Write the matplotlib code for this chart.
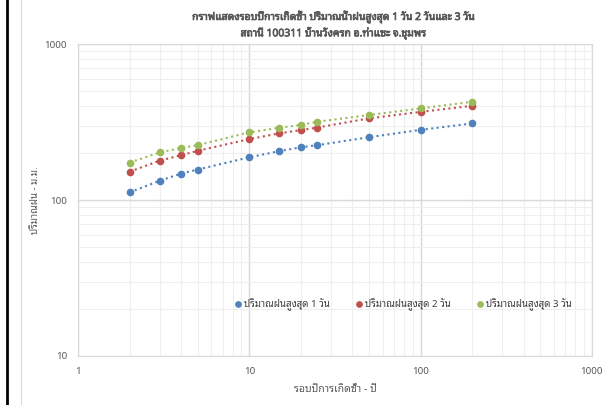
import matplotlib.pyplot as plt
import matplotlib.patheffects as pe
from matplotlib import font_manager
from matplotlib.lines import Line2D
from matplotlib.ft2font import FT2Font

# find fonts that can draw Thai, prefer a proportional sans one
thai_names = []
for f in font_manager.fontManager.ttflist:
    try:
        if 0x0E01 in FT2Font(f.fname).get_charmap() and f.name not in thai_names:
            thai_names.append(f.name)
    except Exception:
        pass
prefer = ['Leelawadee', 'Tahoma', 'Noto Sans Thai', 'Loma', 'Garuda', 'Waree',
          'Umpush', 'Sawasdee', 'Laksaman', 'Kinnari', 'Norasi']
thai_font = None
for p in prefer:
    for n in thai_names:
        if n.startswith(p) and 'Mono' not in n and 'UI' not in n:
            thai_font = n
            break
    if thai_font:
        break
if thai_font is None:
    rest = [n for n in thai_names if 'Mono' not in n]
    thai_font = rest[0] if rest else (thai_names[0] if thai_names else None)
families = [thai_font, 'DejaVu Sans'] if thai_font else ['DejaVu Sans']
plt.rcParams['font.family'] = families

return_period = [2, 3, 4, 5, 10, 15, 20, 25, 50, 100, 200]
rain_1day = [112, 133, 148, 157, 188, 206, 218, 225, 253, 282, 310]
rain_2day = [152, 179, 194, 207, 246, 268, 281, 292, 334, 368, 402]
rain_3day = [174, 202, 216, 225, 272, 291, 303, 318, 351, 387, 427]
labels = ['ปริมาณฝนสูงสุด 1 วัน', 'ปริมาณฝนสูงสุด 2 วัน', 'ปริมาณฝนสูงสุด 3 วัน']
colors = ['#4F81BD', '#C0504D', '#9BBB59']

fig = plt.figure(figsize=(6.12, 4.05), dpi=100)
ax = fig.add_axes([0.1275, 0.121, 0.8395, 0.770])

for y, lab, c in zip([rain_1day, rain_2day, rain_3day], labels, colors):
    ax.plot(return_period, y, linestyle=':', linewidth=1.5, color=c,
            marker='o', markersize=4.5, label=lab)

ax.set_xscale('log')
ax.set_yscale('log')
ax.set_xlim(1, 1000)
ax.set_ylim(10, 1000)
ax.set_xticks([1, 10, 100, 1000])
ax.set_xticklabels(['1', '10', '100', '1000'])
ax.set_yticks([10, 100, 1000])
ax.set_yticklabels(['10', '100', '1000'])
ax.tick_params(which='both', length=0, labelsize=7, colors='#595959', pad=8)
ax.grid(True, which='major', color='#d9d9d9', linewidth=1)
ax.grid(True, which='minor', color='#efefef', linewidth=0.8)
ax.set_axisbelow(True)
for s in ax.spines.values():
    s.set_color('#d9d9d9')

ax.set_xlabel('รอบปีการเกิดซ้ำ - ปี', fontsize=7.5, color='#595959', labelpad=6)
ax.set_ylabel('ปริมาณฝน - ม.ม.', fontsize=7, color='#595959', labelpad=3)

# the Thai font has no bold face, so thicken the title with a stroke
bold = [pe.withStroke(linewidth=0.5, foreground='#595959')]
fig.text(0.545, 0.957, 'กราฟแสดงรอบปีการเกิดซ้ำ ปริมาณน้ำฝนสูงสุด 1 วัน 2 วันและ 3 วัน',
         ha='center', va='center', fontsize=7.5, fontweight='bold', color='#595959',
         path_effects=bold)
fig.text(0.545, 0.918, 'สถานี 100311 บ้านวังครก อ.ท่าแซะ จ.ชุมพร',
         ha='center', va='center', fontsize=7.5, fontweight='bold', color='#595959',
         path_effects=bold)

ax.legend(loc='center', bbox_to_anchor=(0.632, 0.163), ncol=3, frameon=False,
          fontsize=7, handlelength=0.8, handletextpad=0.2, columnspacing=2.6,
          markerscale=0.85, labelcolor='#404040')
leg = ax.get_legend()
for h in leg.legend_handles:
    h.set_linestyle('')

# screenshot edges: black line on the left, light chart border
fig.add_artist(Line2D([0.011, 0.011], [0, 1], color='black', linewidth=2))
fig.add_artist(Line2D([0.035, 0.035], [0, 1], color='#d9d9d9', linewidth=0.8))

fig.savefig('out.png', dpi=100)
